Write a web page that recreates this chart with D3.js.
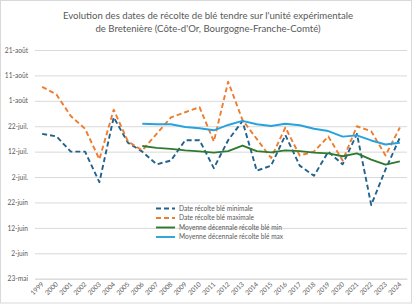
<!DOCTYPE html>
<html>
<head>
<meta charset="utf-8">
<script src="https://cdn.jsdelivr.net/npm/d3@7"></script>
<style>
  html, body { margin: 0; padding: 0; background: #fff; }
  svg { display: block; }
</style>
</head>
<body>
<div id="chart"></div>
<script>
// Années (catégories)
const years = ["1999","2000","2001","2002","2003","2004","2005","2006","2007","2008","2009","2010","2011","2012","2013","2014","2015","2016","2017","2018","2019","2020","2021","2022","2023","2024"];

// Valeurs en jour de l'année (1 = 1er janvier, année non bissextile)
const recolteMin = [200, 199, 193, 193, 181, 206.5, 196.5, 193, 188, 189.5, 197.5, 197.5, 186.5, 197.5, 205, 185.5, 187.5, 199.5, 187.5, 183.5, 193, 188, 200, 172, 186, 198.5];
const recolteMax = [218.5, 215.5, 207, 202, 190, 209.5, 197, 193.5, 200, 206.5, 208.5, 210.5, 197, 220.5, 205.5, 198, 190.5, 202.5, 191.5, 193, 199, 189.5, 203, 201, 191.5, 202.5];

// Moyennes décennales (à partir de 2006)
const decennaleYears = years.slice(7);
const moyMin = [195.2, 194.5, 194.1, 193.5, 193.1, 192.6, 193.2, 195.4, 193.2, 192.7, 193.5, 193.2, 192.6, 192.3, 191.2, 192.3, 189.9, 187.9, 189.2];
const moyMax = [204, 203.8, 203.8, 202.7, 202.2, 201.4, 203.5, 205.1, 203.8, 203.1, 204, 203.4, 202, 201.1, 198.9, 199.4, 197.4, 195.8, 196.5];

const yTicks = [143, 153, 163, 173, 183, 193, 203, 213, 223, 233];

const titleLines = [
  "Evolution des dates de récolte de blé tendre sur l'unité expérimentale",
  "de Bretenière (Côte-d'Or, Bourgogne-Franche-Comté)"
];

const series = [
  { name: "Date récolte blé minimale", years: years, values: recolteMin, color: "#22628c", dash: "5,3" },
  { name: "Date récolte blé maximale", years: years, values: recolteMax, color: "#ed7d31", dash: "5,3" },
  { name: "Moyenne décennale récolte blé min", years: decennaleYears, values: moyMin, color: "#2e7a30", dash: null },
  { name: "Moyenne décennale récolte blé max", years: decennaleYears, values: moyMax, color: "#27a2dc", dash: null }
];

const fr = d3.timeFormatLocale({
  dateTime: "%A %e %B %Y à %X",
  date: "%d/%m/%Y",
  time: "%H:%M:%S",
  periods: ["AM", "PM"],
  days: ["dimanche","lundi","mardi","mercredi","jeudi","vendredi","samedi"],
  shortDays: ["dim.","lun.","mar.","mer.","jeu.","ven.","sam."],
  months: ["janvier","février","mars","avril","mai","juin","juillet","août","septembre","octobre","novembre","décembre"],
  shortMonths: ["janv.","févr.","mars","avr.","mai","juin","juil.","août","sept.","oct.","nov.","déc."]
});
const fmtJour = fr.format("%-d-%b");
const jourLabel = d => fmtJour(new Date(2001, 0, d));

const width = 416;
const height = 305;
const margin = { top: 50, right: 9, bottom: 26.3, left: 35 };
const font = "Lato, 'Open Sans', sans-serif";
const textColor = "#595959";

const svg = d3.select("#chart").append("svg")
  .attr("width", width)
  .attr("height", height)
  .style("font-family", font);

// Cadre du graphique
svg.append("rect")
  .attr("x", 0.5).attr("y", 0.5)
  .attr("width", 411).attr("height", 302.5)
  .attr("fill", "#fff")
  .attr("stroke", "#d9d9d9");

const x = d3.scaleBand()
  .domain(years)
  .range([margin.left, width - margin.right]);

const y = d3.scaleLinear()
  .domain([143, 233])
  .range([height - margin.bottom, margin.top]);

const cx = d => x(d) + x.bandwidth() / 2;

// Grille + axe Y
svg.append("g")
  .attr("transform", `translate(${margin.left},0)`)
  .call(d3.axisLeft(y).tickValues(yTicks).tickSize(-(width - margin.right - margin.left)).tickPadding(7).tickFormat(jourLabel))
  .call(g => g.select(".domain").remove())
  .call(g => g.selectAll(".tick line").attr("stroke", "#d9d9d9").attr("stroke-width", 1))
  .call(g => g.selectAll(".tick text").attr("fill", textColor).style("font-size", "6.6px").style("font-family", font));

// Axe X
svg.append("g")
  .attr("transform", `translate(0,${height - margin.bottom})`)
  .call(d3.axisBottom(x).tickSize(0).tickPadding(0))
  .call(g => g.select(".domain").attr("stroke", "#d9d9d9"))
  .call(g => g.selectAll(".tick text")
    .attr("fill", textColor)
    .style("font-size", "6.6px")
    .style("font-family", font)
    .attr("text-anchor", "end")
    .attr("dy", "0")
    .attr("transform", "translate(2,6) rotate(-45)"));

// Courbes
const line = d3.line()
  .x(d => cx(d.year))
  .y(d => y(d.value));

series.forEach(s => {
  const pts = s.years.map((yr, i) => ({ year: yr, value: s.values[i] }));
  svg.append("path")
    .datum(pts)
    .attr("fill", "none")
    .attr("stroke", s.color)
    .attr("stroke-width", 1.9)
    .attr("stroke-linejoin", "round")
    .attr("stroke-dasharray", s.dash)
    .attr("d", line);
});

// Légende
const legend = svg.append("g").attr("transform", "translate(156,208.5)");
legend.selectAll("g")
  .data(series)
  .join("g")
  .attr("transform", (d, i) => `translate(0,${i * 9.5})`)
  .each(function (d) {
    const g = d3.select(this);
    g.append("line")
      .attr("x1", 0).attr("x2", 19)
      .attr("stroke", d.color)
      .attr("stroke-width", 1.9)
      .attr("stroke-dasharray", d.dash);
    g.append("text")
      .attr("x", 23)
      .attr("dy", "0.35em")
      .attr("fill", textColor)
      .style("font-size", "6.6px")
      .text(d.name);
  });

// Titre
svg.append("g")
  .selectAll("text")
  .data(titleLines)
  .join("text")
  .attr("x", 208)
  .attr("y", (d, i) => 18.5 + i * 13)
  .attr("text-anchor", "middle")
  .attr("fill", textColor)
  .style("font-size", "9.6px")
  .text(d => d);
</script>
</body>
</html>
